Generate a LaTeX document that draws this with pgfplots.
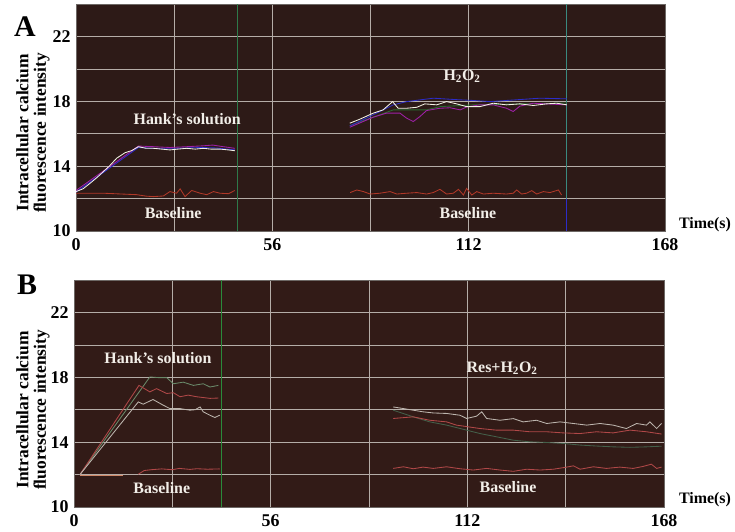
\documentclass[border=0pt]{standalone}
\usepackage{pgfplots}
\pgfplotsset{compat=1.18}
\usepackage{fontspec}
\setmainfont{Liberation Serif}
\definecolor{bgA}{HTML}{2D1A17}
\definecolor{bgB}{HTML}{321B17}
\definecolor{gridc}{HTML}{B5ADA8}
\definecolor{txtc}{HTML}{F2EEE8}
\definecolor{wA}{HTML}{F4F2E6}
\definecolor{bA}{HTML}{2C2CC8}
\definecolor{mA}{HTML}{A020A8}
\definecolor{rA}{HTML}{B03828}
\definecolor{gA}{HTML}{2A6A30}
\definecolor{vgA}{HTML}{2E7A4A}
\definecolor{vtA}{HTML}{3A8A80}
\definecolor{wB}{HTML}{BDB5AE}
\definecolor{rB}{HTML}{B04848}
\definecolor{gB}{HTML}{6A8A6A}
\definecolor{gB2}{HTML}{44604A}
\definecolor{oB}{HTML}{D08868}
\definecolor{vgB}{HTML}{2A8A3A}
\tikzset{ann/.style={font=\fontsize{16}{16}\selectfont\bfseries, text=txtc}}
\pgfplotsset{
  panel/.style={
    scale only axis, width=589bp, height=227bp,
    xmin=0, xmax=168, ymin=10, ymax=24,
    xtick={0,56,112,168}, minor xtick={28,84,140},
    ytick={10,14,18,22}, minor ytick={12,16,20,24},
    grid=both,
    major grid style={draw=gridc, line width=0.7pt},
    minor grid style={draw=gridc, line width=0.7pt},
    major tick length=0pt, minor tick length=0pt,
    axis line style={draw=gridc!60!black, line width=0.6pt},
    /pgf/number format/assume math mode=true,
    tick label style={font=\fontsize{18}{18}\selectfont\bfseries},
    xticklabel style={yshift=-4bp},
    yticklabel style={xshift=-2bp},
    every axis plot/.append style={line width=0.85pt, mark=none},
  }
}
\begin{document}
\begin{tikzpicture}[x=1bp,y=1bp]
\path[use as bounding box] (0bp,0bp) rectangle (735bp,532bp);
% ---------------- Panel A ----------------
\begin{axis}[panel, at={(76bp,301bp)}, anchor=south west, axis background/.style={fill=bgA}]
\addplot[vgA, line width=1pt] coordinates {(46,10) (46,24)};
\addplot[vtA, line width=1pt] coordinates {(140,12) (140,24)};
\addplot[bA, line width=1pt] coordinates {(140,10) (140,12)};
% baseline 1
\addplot[rA] coordinates {(0,12.33)(7.8,12.33)(17.3,12.24)(20,12.15)(22.1,12.12)(24.9,12.16)(26.8,12.43)(28.7,12.33)(29.7,12.6)(31.1,12.12)(33,12.5)(35.4,12.33)(37.3,12.24)(39.2,12.43)(41.1,12.33)(43.5,12.3)(45.3,12.5)};
% Hank's
\addplot[bA] coordinates {(0,12.4)(17.8,15.15)(22.1,15.1)(26.8,15.1)(31.6,15.12)(36,15.15)(40,15.12)(45.3,15.0)};
\addplot[mA] coordinates {(0,12.5)(17.8,15.24)(22.1,15.2)(26.8,15.15)(31.6,15.2)(36,15.25)(39,15.3)(42,15.2)(45.3,15.1)};
\addplot[wA] coordinates {(0,12.43)(2,12.6)(4,12.94)(6,13.3)(7.8,13.66)(9.5,14.0)(11.6,14.49)(14,14.83)(15.9,14.96)(17.8,15.2)(20,15.1)(22.1,15.1)(24.5,15.05)(26.8,15.0)(29,15.05)(31.6,15.1)(34,15.05)(36.3,15.1)(38.5,15.05)(41.1,15.05)(43.5,15.0)(45.3,14.95)};
% baseline 2
\addplot[rA] coordinates {(78.2,12.37)(80.1,12.53)(82,12.43)(83.9,12.28)(86.7,12.33)(89.6,12.43)(91.5,12.28)(94.3,12.33)(97.2,12.37)(100,12.28)(101.9,12.37)(103.8,12.57)(105.7,12.28)(107.6,12.33)(109.1,12.57)(110.5,12.22)(111.4,12.63)(112.9,12.22)(114.3,12.43)(116.2,12.28)(119,12.33)(122.8,12.28)(124.7,12.33)(125.7,12.53)(127.1,12.28)(128.5,12.33)(130,12.49)(131.4,12.28)(133.3,12.43)(135.2,12.37)(137.6,12.53)(138.5,12.22)};
% H2O2
\addplot[gA] coordinates {(78.1,16.5)(90.5,17.47)(100,17.47)(103.8,17.67)(113.3,17.78)(140,17.9)};
\addplot[bA] coordinates {(78.1,16.48)(84.8,17.17)(90.5,17.78)(94.3,17.98)(101.9,18.19)(108.6,18.1)(113.3,18.05)(118.1,17.98)(122.8,18.05)(132.3,18.19)(140,18.15)};
\addplot[mA] coordinates {(78.1,16.4)(84.8,17.02)(88.6,17.27)(92.4,17.27)(94.3,16.96)(96.2,16.75)(98.1,17.06)(100,17.43)(103.8,17.57)(106.7,17.6)(109.6,17.47)(111.4,17.65)(115.2,17.78)(119,17.78)(122.8,17.57)(124.7,17.37)(126.6,17.7)(130.4,17.88)(134.2,17.84)(140,17.78)};
\addplot[wA] coordinates {(78.1,16.65)(81,16.9)(84.8,17.27)(87.6,17.47)(90.3,17.98)(91.9,17.57)(94.3,17.57)(97.2,17.63)(99.5,17.84)(102.9,17.78)(105.7,17.98)(108.6,17.84)(111.4,17.67)(115.2,17.67)(119,17.88)(122.8,17.78)(126.6,17.84)(130.4,17.74)(134.2,17.84)(137.1,17.88)(140,17.78)};
\node[ann] at (axis cs:31.7,16.9) {Hank’s solution};
\node[ann] at (axis cs:27.7,11.1) {Baseline};
\node[ann] at (axis cs:110.1,19.55) {H\textsubscript{2}O\textsubscript{2}};
\node[ann] at (axis cs:111.8,11.1) {Baseline};
\end{axis}
% ---------------- Panel B ----------------
\begin{axis}[panel, at={(74bp,25bp)}, anchor=south west, width=590bp, axis background/.style={fill=bgB}]
\addplot[vgB, line width=1pt] coordinates {(42,10) (42,24)};
% baseline Hank
\addplot[oB] coordinates {(1.7,11.97)(14,11.97)};
\addplot[rB] coordinates {(18.3,12.02)(20,12.25)(22,12.3)(25,12.35)(28,12.3)(30,12.38)(33,12.32)(35,12.36)(38,12.33)(41.5,12.35)};
% Hank's
\addplot[gB] coordinates {(1.7,12)(21.6,18.02)(24,17.98)(26.4,17.98)(28.3,17.6)(31.1,17.7)(34,17.5)(36.8,17.6)(38.7,17.4)(41.1,17.5)};
\addplot[rB] coordinates {(1.7,12)(18.5,17.5)(21.6,17.1)(23.5,17.3)(26.4,17.0)(28.3,17.05)(30.2,16.8)(32.5,16.9)(34.9,16.8)(38.7,16.7)(41.1,16.72)};
\addplot[wB] coordinates {(1.7,12)(18.3,16.48)(19.7,16.34)(22.5,16.63)(25.4,16.28)(27.3,16.07)(30.2,16.07)(33,15.97)(34.5,16.0)(35.9,16.17)(36.8,15.87)(38.7,15.66)(40.1,15.52)(41.5,15.66)};
% baseline Res
\addplot[rB] coordinates {(90.9,12.38)(93.8,12.48)(96.6,12.36)(99.4,12.46)(102.3,12.38)(106.1,12.48)(109.9,12.36)(113.7,12.28)(117.5,12.38)(121.3,12.28)(125.1,12.2)(128.9,12.33)(132.7,12.28)(136.5,12.33)(140.3,12.46)(142.2,12.54)(144.1,12.33)(147.9,12.48)(151.6,12.38)(155.4,12.46)(159.2,12.38)(162,12.5)(164.4,12.64)(165.9,12.38)(167.3,12.46)};
% Res+H2O2
\addplot[gB2] coordinates {(90.9,15.97)(96.6,15.56)(101.3,15.25)(106.1,15.05)(111.8,14.74)(115.6,14.53)(120.3,14.33)(125.1,14.12)(129.8,14.02)(134.6,13.98)(139.3,13.92)(144.1,13.82)(148.8,13.76)(153.5,13.71)(158.3,13.68)(163,13.71)(167.3,13.75)};
\addplot[rB] coordinates {(90.9,15.46)(96.6,15.56)(101.3,15.35)(106.1,15.25)(108.9,15.05)(115.6,14.84)(120.3,14.74)(125.1,14.74)(129.8,14.64)(134.6,14.64)(139.3,14.57)(144.1,14.53)(148.8,14.64)(153.5,14.57)(158.3,14.74)(163,14.64)(167.3,14.5)};
\addplot[wB] coordinates {(90.9,16.17)(93.8,16.07)(96.6,15.97)(99.4,15.87)(102.3,15.8)(106.1,15.77)(109.9,15.66)(111.8,15.46)(114.6,15.6)(116.1,15.87)(117.5,15.46)(121.3,15.35)(125.1,15.45)(127.9,15.25)(131.7,15.35)(134.6,15.15)(138.4,15.25)(142.2,15.15)(146,15.05)(149.8,15.15)(153.5,15.05)(157.3,14.84)(160.2,15.15)(163,15.05)(164,15.25)(165.9,14.84)(167.3,15.15)};
\node[ann] at (axis cs:23.9,19.17) {Hank’s solution};
\node[ann] at (axis cs:25,11.17) {Baseline};
\node[ann] at (axis cs:121.9,18.55) {Res+H\textsubscript{2}O\textsubscript{2}};
\node[ann] at (axis cs:123.6,11.23) {Baseline};
\end{axis}
% ---------------- labels ----------------
\node[font=\fontsize{30}{30}\selectfont\bfseries] at (25bp,505bp) {A};
\node[font=\fontsize{30}{30}\selectfont\bfseries] at (27bp,247bp) {B};
\node[rotate=90, align=center, font=\fontsize{17.5}{17.5}\selectfont\bfseries] at (33bp,399bp) {Intracellular calcium\\fluorescence intensity};
\node[rotate=90, align=center, font=\fontsize{17.5}{17.5}\selectfont\bfseries] at (33bp,122bp) {Intracellular calcium\\fluorescence intensity};
\node[font=\fontsize{16}{16}\selectfont\bfseries] at (705bp,307bp) {Time(s)};
\node[font=\fontsize{16}{16}\selectfont\bfseries] at (705bp,32bp) {Time(s)};
\end{tikzpicture}
\end{document}
